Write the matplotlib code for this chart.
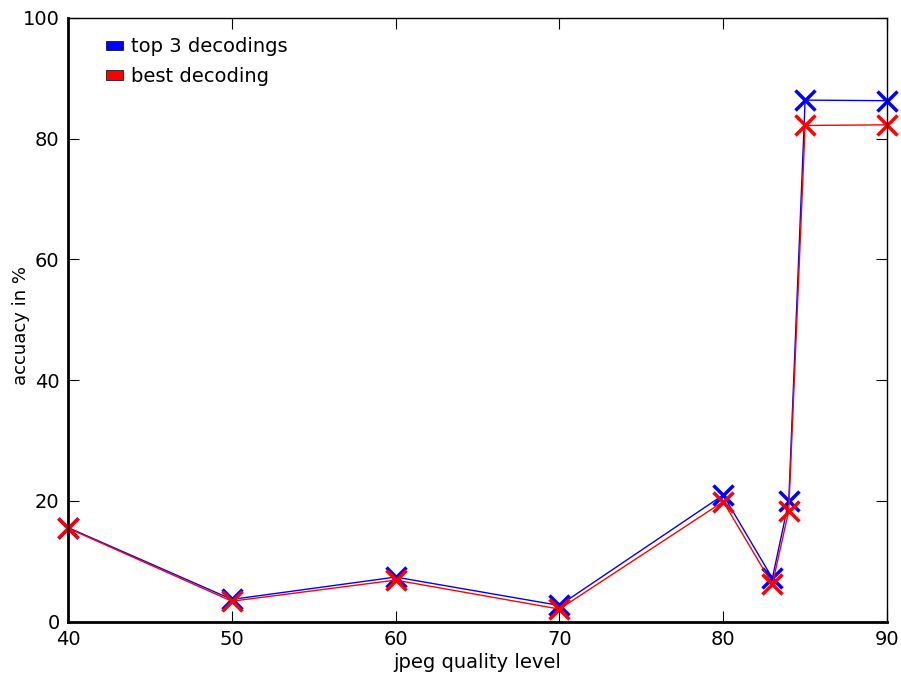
import matplotlib
matplotlib.use('Agg')
import matplotlib.pyplot as plt
from matplotlib.patches import Patch

quality = [40, 50, 60, 70, 80, 83, 84, 85, 90]
top3 = [15.6, 3.7, 7.4, 2.7, 21.0, 7.2, 20.0, 86.4, 86.3]
best = [15.5, 3.4, 6.9, 2.1, 19.9, 6.2, 18.4, 82.2, 82.3]

fig = plt.figure(figsize=(9.01, 6.81), dpi=100)
ax = fig.add_axes([0.0755, 0.087, 0.909, 0.8866])

ax.plot(quality, top3, color='blue', lw=1, marker='x', ms=14, mew=2.5, clip_on=False)
ax.plot(quality, best, color='red', lw=1, marker='x', ms=14, mew=2.5, clip_on=False)

ax.set_xlim(40, 90)
ax.set_ylim(0, 100)
ax.set_xticks([40, 50, 60, 70, 80, 90])
ax.set_yticks([0, 20, 40, 60, 80, 100])
ax.tick_params(direction='in', top=True, right=True, length=8, labelsize=14, pad=6)
for s in ['left', 'bottom']:
    ax.spines[s].set_linewidth(2)
for s in ['top', 'right']:
    ax.spines[s].set_linewidth(1)
ax.set_xlabel('jpeg quality level', fontsize=14, labelpad=3)
ax.set_ylabel('accuacy in %', fontsize=13)
ax.yaxis.set_label_coords(-0.047, 0.49)

handles = [Patch(facecolor='blue', edgecolor='black', lw=0.5),
           Patch(facecolor='red', edgecolor='black', lw=0.5)]
ax.legend(handles, ['top 3 decodings', 'best decoding'], loc='upper left',
          frameon=False, fontsize=14, handlelength=0.85, handleheight=0.35,
          handletextpad=0.45, borderaxespad=0.5, labelspacing=0.55,
          bbox_to_anchor=(0.025, 0.997))

fig.savefig('out.png', dpi=100)
